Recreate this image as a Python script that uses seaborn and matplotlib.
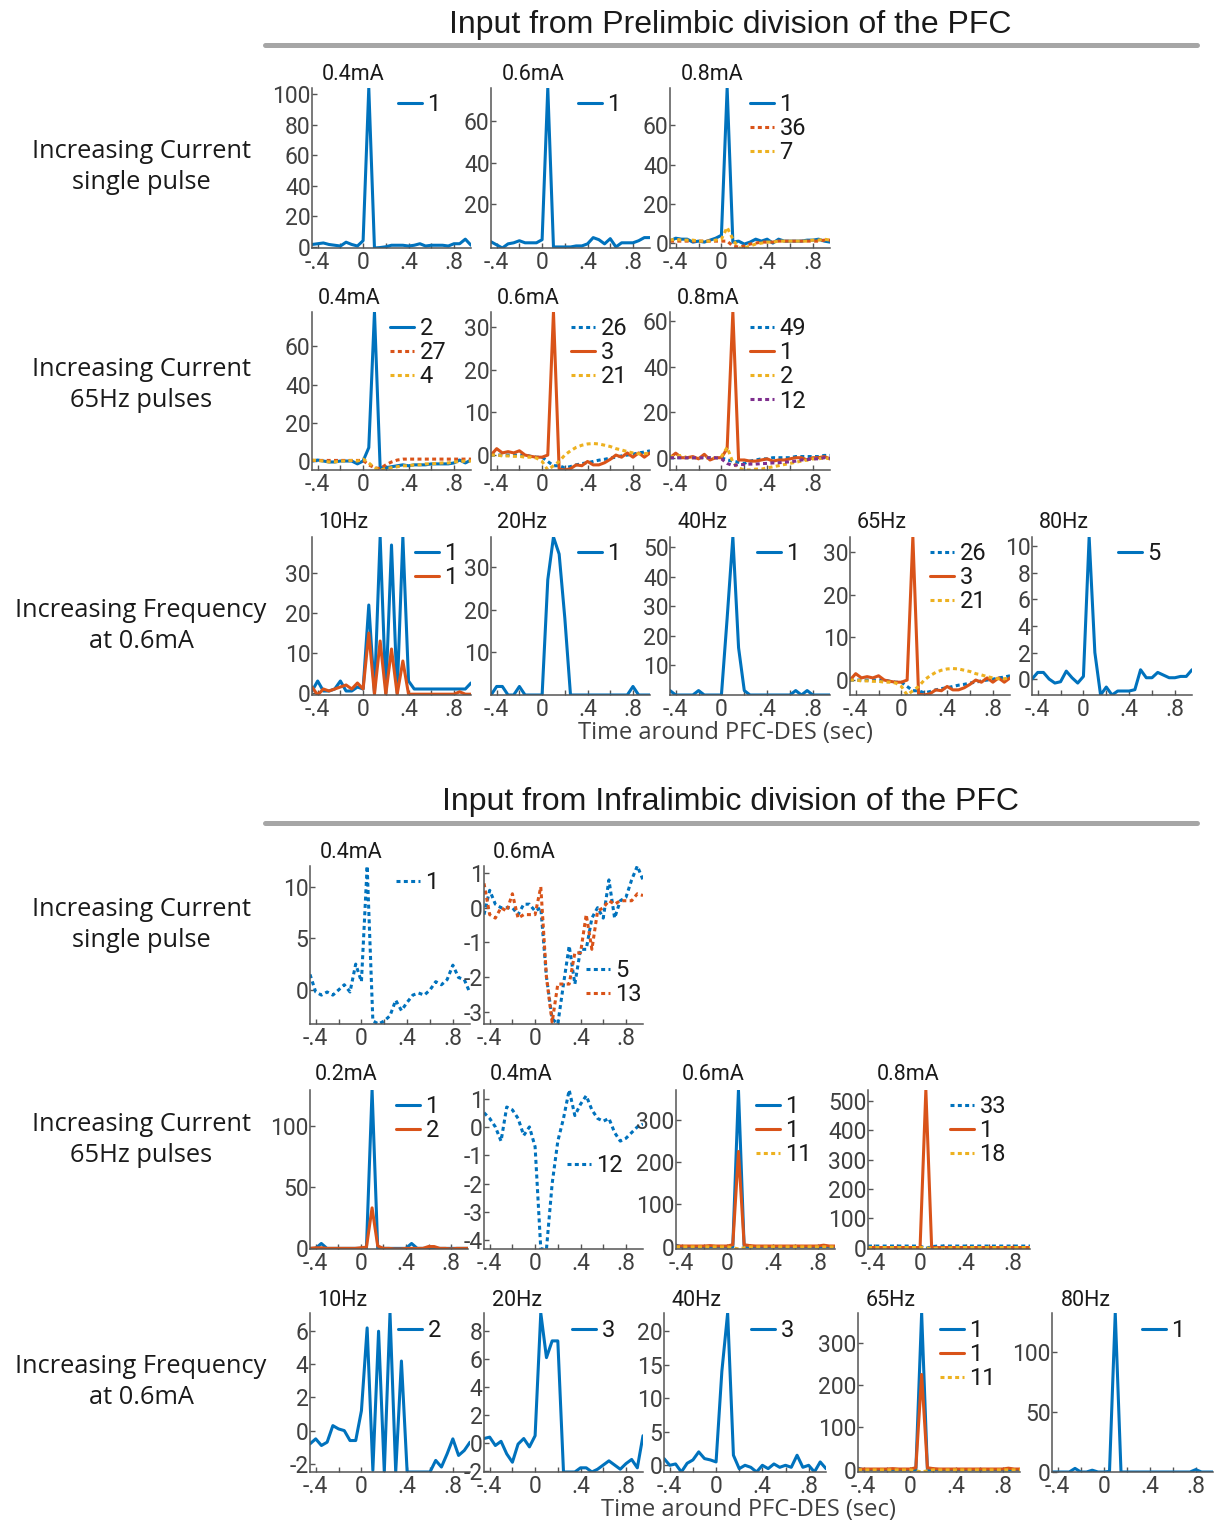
import matplotlib
matplotlib.use("Agg")
import matplotlib.pyplot as plt
from matplotlib.lines import Line2D
import seaborn as sns

# ---------------- data ----------------
t = [-0.45, -0.40, -0.35, -0.30, -0.25, -0.20, -0.15, -0.10, -0.05, 0.00,
     0.05, 0.10, 0.15, 0.20, 0.25, 0.30, 0.35, 0.40, 0.45, 0.50,
     0.55, 0.60, 0.65, 0.70, 0.75, 0.80, 0.85, 0.90, 0.95]
xtick_vals = [-0.4, 0.0, 0.4, 0.8]
xtick_labels = ['-.4', '0', '.4', '.8']

# Prelimbic, single pulse
pl_s04_u1 = [1.5, 2, 2.5, 1.5, 1, 0.5, 3, 1.5, 0.5, 4, 104, -0.8, -0.5, 0, 1, 1, 1, 0.5, 1, 2, 0.5, 1, 1, 1, 0.5, 2, 2, 5, 1]
pl_s06_u1 = [2, 0.5, -1, 1, 1.5, 2.5, 1.5, 1.5, 1.5, 3, 76, -0.5, -0.5, -0.5, -0.5, 0, 0, 1, 4, 3, 1, 3.5, -0.5, 1.5, 1.5, 1.5, 2.5, 4, 4]
pl_s08_u1 = [1, 2.5, 2, 2, 0.5, 1, 0.5, 1.5, 2.5, 4, 79, 0.5, 1, -0.5, 0.5, 2, 1, 2, 0, 2, 1, 1, 1, 1, 1.5, 1.5, 2, 1, 0.5]
pl_s08_u36 = [1, 1, 1, 1, 1, 1, 1, 1, 1, 1, 1, -1.5, -2, -1.5, -0.5, 0, 0.5, 0.5, 0.5, 1, 1, 1, 1, 1, 1, 1, 1, 1.5, 1.5]
pl_s08_u7 = [1.5, 2, 1.5, 1.5, 1.5, 1, 1, 1, 1.5, 2, 8, 2, -2.5, -2.5, -1.5, -0.5, 0, 0.5, 0.5, 1, 1, 1, 1, 1, 1, 1.5, 1.5, 2, 1.5]

# Prelimbic, 65Hz pulses
pl_p04_u2 = [0, 0.5, 0, -0.5, -0.5, 0, 0, 0, -1.5, 0, 7, 78, -3.5, -3.5, -3, -2.5, -2, -2.5, -2, -2, -2, -1.5, -1.5, -1.5, -1.5, -1, 0.5, -1, 0.5]
pl_p04_u27 = [0.3, 0.3, 0.3, 0.3, 0.3, 0.3, 0.3, 0.3, 0.3, 0.3, -2, -3.5, -4, -2, -0.5, 0.5, 1, 1, 1, 1, 1, 1, 1, 1, 1, 1, 1, 1, 1]
pl_p04_u4 = [0.5, 0.2, 0, -0.5, -0.5, 0, 0, 0.3, 0, 1, -1, -3.5, -4.7, -4, -3.5, -3, -2.5, -2.5, -2, -2, -1.5, -1.5, -1.2, -1, -1, -0.5, -0.3, 0, 0]
pl_p06_u26 = [0, 0, 0, 0, 0, 0, 0, -0.3, -0.5, -0.5, -1.5, -2.5, -2.5, -3, -2.7, -2.3, -2, -1.8, -1.5, -1.2, -1, -0.7, -0.5, -0.2, 0, 0.2, 0.5, 0.7, 1]
pl_p06_u3 = [0, 1.5, 0.5, 0.8, 0.5, 1, 0, -0.3, -0.5, -0.5, 0, 33.5, -3.3, -3.5, -3.2, -2.3, -2.5, -1.5, -2.3, -2.3, -1.8, -1, 0, -0.5, 0.5, -0.5, 0.5, -0.5, 0.5]
pl_p06_u21 = [0, 0, -0.2, -0.2, -0.3, -0.3, -0.5, -0.5, -0.7, -1.5, -3.5, -2.5, -1.5, 0, 1, 1.8, 2.3, 2.6, 2.7, 2.6, 2.3, 2, 1.5, 1.2, 0.8, 0.5, 0.3, 0.3, 0.5]
pl_p08_u49 = [0, 0, 0, 0, 0, 0, 0, 0, 0, 0, -1, -1.5, -2, -2.5, -1.5, -1, -0.5, -0.5, 0, 0, 0, 0, 0.5, 0.5, 0.5, 0.5, 0.5, 1, 1]
pl_p08_u1 = [0, 2, 0, 0, 0.5, -0.5, 1.5, -1, 0, 0, 4, 64, -1, -1, -1.5, -1.5, -1, -0.5, -1.5, -1, -1, -0.5, 0, 0, -1, 0, 0, 0.5, -0.5]
pl_p08_u2 = [0.5, 0.5, 1, 0, 0, 0, 0, 0, 0, 0.5, 4.5, -2, -4.5, -5.4, -5.4, -5, -5, -4.5, -4, -3.5, -3, -2.5, -2, -1.5, -1, -0.5, -0.5, 0, -0.5]
pl_p08_u12 = [0, 0, 0, 0, 0, 0, 0, 0, 0, -0.5, -2.5, -3.5, -3, -3, -2.8, -2.8, -2.6, -2.5, -2.3, -2.2, -2, -1.8, -1.5, -1, -0.8, -0.5, -0.5, 0, -0.3]

# Prelimbic, increasing frequency at 0.6mA
pl_f10_u1a = [0.5, 3, 0.5, 0.5, 1, 3, 0.5, 0.5, 1.5, 1, 22, 0, 39, 0, 37, 0, 39, 3, 1, 1, 1, 1, 1, 1, 1, 1, 1, 1, 2.5]
pl_f10_u1b = [1.5, -0.5, 1, 0.5, 1, 1.5, 2, 1, 2.5, 1, 15, -0.3, 13, -0.3, 11, -0.3, 8, -0.3, -0.3, -0.3, -0.3, -0.3, -0.3, -0.3, -0.3, -0.3, 0.3, -0.3, -0.3]
pl_f20_u1 = [0, 2, 2, 0, 0, 2, 0, 0, 0, 0, 27, 37, 33, 18, 0, 0, 0, 0, 0, 0, 0, 0, 0, 0, 0, 2, 0, 0, 0]
pl_f40_u1 = [1.5, 0, 0, 0, 0, 1.5, 0, 0, 0, 0, 26, 53.5, 16, 1.5, 0, 0, 0, 0, 0, 0, 0, 0, 1.5, 0, 1.5, 0, 0, 0, 0]
pl_f80_u5 = [0, 0.5, 0.5, 0, -0.3, -0.2, 0.6, 0.1, -0.3, 0.2, 10.7, 2, -1.2, -0.6, -1.2, -0.9, -0.9, -0.9, -0.8, 0.7, 0.1, 0.1, 0.5, 0.3, 0.1, 0.1, 0.2, 0.2, 0.7]

# Infralimbic, single pulse
il_s04_u1 = [1.5, -0.2, -0.5, -0.2, -0.5, 0, 0.5, -0.2, 2.5, 0.8, 12, -3, -3.3, -3, -2.5, -1, -2, -1.2, -0.5, -0.3, -0.5, 0, 0.8, 0.5, 1, 2.4, 1.2, 1, -0.3]
il_s06_u5 = [-0.2, 0.5, 0.1, 0, 0, 0, -0.2, 0.1, 0.1, -0.1, 0, -2, -3.2, -3.35, -2.2, -1.1, -2.2, -1.2, -1.2, -0.3, 0, -0.3, 0.8, -0.3, 0.2, 0.3, 0.8, 1.2, 0.8]
il_s06_u13 = [0.7, -0.2, -0.3, 0, -0.1, 0.4, -0.3, -0.2, -0.2, -0.2, 0.6, -2, -3.3, -2.2, -2.2, -2.2, -1.3, -1.3, -0.2, -1.2, -0.1, 0, 0.2, 0.1, 0.2, 0.2, 0.2, 0.4, 0.35]

# Infralimbic, 65Hz pulses
il_p02_u1 = [0, 0, 4, 0, 0, 0, 0, 0, 0, 0, 0, 129, 0, 0, 0, 0, 0, 0, 4, 0, 0, 0, 0, 0, 0, 0, 0, 0, 0]
il_p02_u2 = [0, 0.5, 0.5, 0, 0, 0, 0, 0, 0, 0.5, 1, 33, 2, 0, 0, -0.5, -0.5, 0, 0, 0, 0, 1.5, 1.5, 0, 0, -0.5, 0, 0, 0]
il_p04_u12 = [0.5, 0.3, 0, -0.5, 0.7, 0.6, 0.3, -0.3, 0, -0.7, -4.3, -4.3, -2, -0.5, 0.3, 1.3, 0.4, 0.8, 1.1, 0.6, 0.3, 0.2, 0.3, -0.2, -0.5, -0.4, -0.2, 0, 0.1]
il_p06_u1a = [4, 0, 0, 0, 0, 0, 0, 0, 0, 0, 0, 370, 0, 0, 0, 0, 0, 0, 0, 0, 0, 0, 0, 0, 0, 0, 0, 0, 0]
il_p06_u1b = [2, 2, 2, 2, 2, 2, 3, 2, 2, 2, 5, 225, 5, 3, 2, 2, 2, 2, 2, 2, 2, 2, 2, 2, 2, 2, 4, 2, 2]
il_p06_u11 = [0, 0, 0, 0, 0, 0, 0, 0, 0, 0, -2, -5, -2, 0, 0, 0, 0, 0, 0, 0, 0, 0, 0, 0, 0, 0, 0, 0, 0]
il_p08_u33 = [5, 5, 5, 5, 5, 5, 5, 5, 5, 5, -3, 3, 5, 5, 5, 5, 5, 5, 5, 5, 5, 5, 5, 5, 5, 5, 5, 5, 5]
il_p08_u1 = [0, 0, 0, 0, 0, 0, 0, 0, 0, 0, 537, 0, 0, 0, 0, 0, 0, 0, 0, 0, 0, 0, 0, 0, 0, 0, 0, 0, 0]
il_p08_u18 = [0, 0, 0, 0, 0, 0, 0, 0, 0, 0, 0, -5, -2, -2, -1, 0, 0, 0, 0, 0, 0, 0, 0, 0, 0, 0, 0, 0, 0]

# Infralimbic, increasing frequency at 0.6mA
il_f10_u2 = [-0.8, -0.5, -0.9, -0.7, 0.3, 0.1, 0, -0.6, -0.6, 1.2, 6.2, -2.4, 6, -2.5, 7.1, -2.5, 4.2, -2.5, -2.5, -2.5, -2.5, -2.5, -1.8, -2.2, -1.4, -0.5, -1.5, -1.2, -0.7]
il_f20_u3 = [0.3, 0.4, -0.2, 0.1, -0.8, -1.4, -0.1, 0.3, -0.3, 0.5, 9.3, 6.1, 7.3, 7.3, -2.1, -2.1, -2.1, -1.8, -1.8, -2.1, -1.9, -1.6, -1.3, -1.6, -1.9, -1.5, -1.2, -1.8, 0.5]
il_f40_u3 = [1, 0, 0.2, -1, 0.3, 0.8, 2, 1, 0.8, 0.5, 14, 22.7, 1.5, -0.5, 0, -0.3, -1, 0, -0.5, 0.2, -0.3, 0, -0.3, 1.5, -0.3, 0, -1, 0.5, -0.5]
il_f80_u1 = [0, 0, 0, 0, 3, 0, 0, 1.5, 0, 0, 0.5, 132, 0, 0, 0, 0, 0, 0, 0, 0, 0, 0, 0, 0, 0, 2, 0, 0, 0]

# ---------------- style ----------------
W, H = 1215, 1524
sns.set_theme(style="ticks")
plt.rcParams['font.family'] = ['Roboto', 'DejaVu Sans']

BLUE, ORANGE, YELLOW, PURPLE = '#0072BD', '#D95319', '#EDB120', '#7E2F8E'
SOL = '-'
DOT = (0, (1.3, 1.1))
TICKC = '#404040'
LABEL_FONT = ['Open Sans', 'DejaVu Sans']

fig = plt.figure(figsize=(W / 100, H / 100), dpi=100)

# (box l,t,r,b px, title, title pos, yticks, legend pos, series)
panels = [
    ((312, 88, 471, 248), '0.4mA', (322, 74), [0, 20, 40, 60, 80, 100], (398, 102),
     [(pl_s04_u1, BLUE, SOL, '1')]),
    ((491, 88, 650, 248), '0.6mA', (502, 74), [20, 40, 60], (578, 102),
     [(pl_s06_u1, BLUE, SOL, '1')]),
    ((670, 88, 830, 248), '0.8mA', (681, 74), [0, 20, 40, 60], (750, 102),
     [(pl_s08_u1, BLUE, SOL, '1'), (pl_s08_u36, ORANGE, DOT, '36'), (pl_s08_u7, YELLOW, DOT, '7')]),

    ((312, 312, 471, 470), '0.4mA', (318, 298), [0, 20, 40, 60], (390, 326),
     [(pl_p04_u2, BLUE, SOL, '2'), (pl_p04_u27, ORANGE, DOT, '27'), (pl_p04_u4, YELLOW, DOT, '4')]),
    ((491, 312, 650, 470), '0.6mA', (497, 298), [0, 10, 20, 30], (571, 326),
     [(pl_p06_u26, BLUE, DOT, '26'), (pl_p06_u3, ORANGE, SOL, '3'), (pl_p06_u21, YELLOW, DOT, '21')]),
    ((670, 312, 830, 470), '0.8mA', (677, 298), [0, 20, 40, 60], (750, 326),
     [(pl_p08_u49, BLUE, DOT, '49'), (pl_p08_u1, ORANGE, SOL, '1'), (pl_p08_u2, YELLOW, DOT, '2'),
      (pl_p08_u12, PURPLE, DOT, '12')]),

    ((312, 537, 471, 695), '10Hz', (318, 522), [0, 10, 20, 30], (415, 551),
     [(pl_f10_u1a, BLUE, SOL, '1'), (pl_f10_u1b, ORANGE, SOL, '1')]),
    ((491, 537, 650, 695), '20Hz', (497, 522), [10, 20, 30], (578, 551),
     [(pl_f20_u1, BLUE, SOL, '1')]),
    ((670, 537, 830, 695), '40Hz', (677, 522), [10, 20, 30, 40, 50], (757, 551),
     [(pl_f40_u1, BLUE, SOL, '1')]),
    ((850, 537, 1010, 695), '65Hz', (857, 522), [0, 10, 20, 30], (930, 551),
     [(pl_p06_u26, BLUE, DOT, '26'), (pl_p06_u3, ORANGE, SOL, '3'), (pl_p06_u21, YELLOW, DOT, '21')]),
    ((1032, 537, 1192, 695), '80Hz', (1039, 522), [0, 2, 4, 6, 8, 10], (1118, 551),
     [(pl_f80_u5, BLUE, SOL, '5')]),

    ((310, 866, 470, 1024), '0.4mA', (320, 852), [0, 5, 10], (396, 880),
     [(il_s04_u1, BLUE, DOT, '1')]),
    ((484, 866, 643, 1024), '0.6mA', (493, 852), [-3, -2, -1, 0, 1], (586, 968),
     [(il_s06_u5, BLUE, DOT, '5'), (il_s06_u13, ORANGE, DOT, '13')]),

    ((310, 1090, 468, 1249), '0.2mA', (315, 1075), [0, 50, 100], (396, 1104),
     [(il_p02_u1, BLUE, SOL, '1'), (il_p02_u2, ORANGE, SOL, '2')]),
    ((484, 1090, 643, 1249), '0.4mA', (490, 1075), [-4, -3, -2, -1, 0, 1], (567, 1163),
     [(il_p04_u12, BLUE, DOT, '12')]),
    ((676, 1090, 835, 1249), '0.6mA', (682, 1075), [0, 100, 200, 300], (756, 1104),
     [(il_p06_u1a, BLUE, SOL, '1'), (il_p06_u1b, ORANGE, SOL, '1'), (il_p06_u11, YELLOW, DOT, '11')]),
    ((868, 1090, 1030, 1249), '0.8mA', (877, 1075), [0, 100, 200, 300, 400, 500], (950, 1104),
     [(il_p08_u33, BLUE, DOT, '33'), (il_p08_u1, ORANGE, SOL, '1'), (il_p08_u18, YELLOW, DOT, '18')]),

    ((310, 1313, 470, 1472), '10Hz', (317, 1300), [-2, 0, 2, 4, 6], (398, 1328),
     [(il_f10_u2, BLUE, SOL, '2')]),
    ((484, 1313, 643, 1472), '20Hz', (492, 1300), [-2, 0, 2, 4, 6, 8], (572, 1328),
     [(il_f20_u3, BLUE, SOL, '3')]),
    ((664, 1313, 826, 1472), '40Hz', (671, 1300), [0, 5, 10, 15, 20], (751, 1328),
     [(il_f40_u3, BLUE, SOL, '3')]),
    ((858, 1313, 1020, 1472), '65Hz', (866, 1300), [0, 100, 200, 300], (940, 1328),
     [(il_p06_u1a, BLUE, SOL, '1'), (il_p06_u1b, ORANGE, SOL, '1'), (il_p06_u11, YELLOW, DOT, '11')]),
    ((1052, 1313, 1213, 1472), '80Hz', (1061, 1300), [0, 50, 100], (1142, 1328),
     [(il_f80_u1, BLUE, SOL, '1')]),
]

for box, title, tpos, yt, lpos, series in panels:
    l, tp, r, b = box
    ax = fig.add_axes([l / W, 1 - b / H, (r - l) / W, (b - tp) / H])
    handles, labels = [], []
    lo, hi = 1e9, -1e9
    for vals, col, ls, lab in series:
        sns.lineplot(x=t, y=vals, ax=ax, color=col, linestyle=ls, linewidth=2.2,
                     errorbar=None, legend=False)
        handles.append(ax.lines[-1])
        labels.append(lab)
        lo, hi = min(lo, min(vals)), max(hi, max(vals))
    ax.set_xlim(t[0], t[-1])
    ax.set_xticks(xtick_vals)
    ax.set_xticklabels(xtick_labels)
    ax.set_xticks([-0.2, 0.2, 0.6], minor=True)
    ax.set_yticks(yt)
    ax.set_yticklabels([str(v) for v in yt])
    ax.set_ylim(lo, hi)
    ax.set_xlabel('')
    ax.set_ylabel('')
    for s in ['top', 'right']:
        ax.spines[s].set_visible(False)
    for s in ['left', 'bottom']:
        ax.spines[s].set_color('#555555')
        ax.spines[s].set_linewidth(1.1)
    ax.tick_params(which='both', direction='in', length=3.5, width=1, color='#555555',
                   labelcolor=TICKC, labelsize=16.5, pad=1)
    ax.tick_params(axis='x', which='major', pad=2.5)
    ax.set_facecolor('none')
    fig.text(tpos[0] / W, 1 - tpos[1] / H, title, ha='left', va='center',
             fontsize=15.5, color='#1a1a1a')
    leg = ax.legend(handles, labels, loc='upper left',
                    bbox_to_anchor=(lpos[0] / W, 1 - (lpos[1] - 9) / H),
                    bbox_transform=fig.transFigure, frameon=False, fontsize=17,
                    handlelength=1.0, handletextpad=0.25, labelspacing=0.05,
                    borderaxespad=0, borderpad=0)
    for txt in leg.get_texts():
        txt.set_color('#1a1a1a')

# section titles and separators
for ty, ly, txt in [(25, 45, 'Input from Prelimbic division of the PFC'),
                    (802, 823, 'Input from Infralimbic division of the PFC')]:
    fig.text(730 / W, 1 - ty / H, txt, ha='center', va='center', fontsize=23,
             family=['Liberation Sans', 'DejaVu Sans'], color='#1a1a1a')
    fig.add_artist(Line2D([265 / W, 1197 / W], [1 - ly / H, 1 - ly / H],
                          color='#a6a6a6', lw=3.6, transform=fig.transFigure))

# row labels
row_labels = [(167, 'Increasing Current\nsingle pulse'),
              (385, 'Increasing Current\n65Hz pulses'),
              (626, 'Increasing Frequency\nat 0.6mA'),
              (925, 'Increasing Current\nsingle pulse'),
              (1140, 'Increasing Current\n65Hz pulses'),
              (1382, 'Increasing Frequency\nat 0.6mA')]
for y, txt in row_labels:
    fig.text(141 / W, 1 - y / H, txt, ha='center', va='center', fontsize=18.3,
             linespacing=1.28, color='#1a1a1a', family=LABEL_FONT)

# x labels
for x, y in [(725, 733), (748, 1510)]:
    fig.text(x / W, 1 - y / H, 'Time around PFC-DES (sec)', ha='center', va='center',
             fontsize=17, color=TICKC, family=LABEL_FONT)

fig.savefig('out.png', dpi=100, facecolor='white')
